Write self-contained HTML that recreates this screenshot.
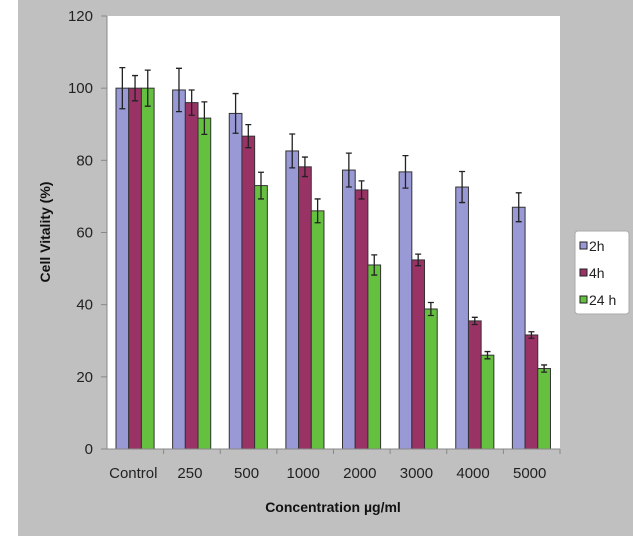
<!DOCTYPE html>
<html><head><meta charset="utf-8"><style>
body{margin:0;width:633px;height:536px;overflow:hidden;background:#fff}
svg{display:block;font-family:"Liberation Sans",Arial,sans-serif}
</style></head><body>
<svg width="633" height="536">
<rect x="18" y="0" width="615" height="536" fill="#c0c0c0"/>
<rect x="107" y="16" width="453" height="433" fill="#fff"/>
<g id="bars"></g>
<g id="axes"></g>
<text x="0" y="0" transform="translate(50,232) rotate(-90)" text-anchor="middle" font-size="14" font-weight="bold" fill="#111">Cell Vitality (%)</text>
<text x="333" y="512" text-anchor="middle" font-size="14" font-weight="bold" fill="#111">Concentration µg/ml</text>
<g>
<rect x="575" y="231" width="54" height="83" rx="3" fill="#fff" stroke="#aaa"/>
<rect x="580" y="242" width="7" height="7" fill="#9999d5" stroke="#222"/>
<text x="589" y="251" font-size="14" fill="#222">2h</text>
<rect x="580" y="269" width="7" height="7" fill="#993366" stroke="#222"/>
<text x="589" y="278" font-size="14" fill="#222">4h</text>
<rect x="580" y="296" width="7" height="7" fill="#66c040" stroke="#222"/>
<text x="589" y="305" font-size="14" fill="#222">24 h</text>
</g>
</svg>
<script>
const categories=["Control","250","500","1000","2000","3000","4000","5000"];
const seriesNames=["2h","4h","24h"];
const values2h=[100,99.5,93,82.6,77.3,76.8,72.6,67];
const values4h=[100,96,86.7,78.2,71.8,52.4,35.5,31.6];
const values24h=[100,91.7,73,66,51,38.8,26,22.3];
const err2h=[5.7,6,5.5,4.7,4.7,4.5,4.3,4];
const err4h=[3.5,3.5,3.2,2.7,2.5,1.6,1,0.9];
const err24h=[5,4.5,3.7,3.3,2.8,1.8,1,1];
const yTicks=[0,20,40,60,80,100,120];
const colors=["#9999d5","#993366","#66c040"];
const NS="http://www.w3.org/2000/svg";
const X0=107,X1=560,Y0=449,Y1=16,YMAX=120;
const y=v=>Y0-(v/YMAX)*(Y0-Y1);
const step=(X1-X0)/categories.length;
const bw=12.7;
const gx=i=>X0+i*step+9;
function mk(t,a,p){const e=document.createElementNS(NS,t);for(const k in a)e.setAttribute(k,a[k]);p.appendChild(e);return e;}
const bars=document.getElementById('bars'),axes=document.getElementById('axes');
const vals=[values2h,values4h,values24h],errs=[err2h,err4h,err24h];
vals.forEach((arr,s)=>{arr.forEach((v,i)=>{
 const x=gx(i)+s*bw;
 const r=mk('rect',{x:x,y:y(v),width:bw,height:Y0-y(v),fill:colors[s],stroke:'#333','stroke-width':1},bars);
 
 
 const cx=x+bw/2,e=errs[s][i];
 const l=mk('path',{d:`M${cx},${y(v+e)}V${y(v-e)}M${cx-3},${y(v+e)}H${cx+3}M${cx-3},${y(v-e)}H${cx+3}`,stroke:'#222','stroke-width':1.3,fill:'none'},bars);
 
 
});});
const ya=mk('line',{x1:X0,y1:Y1,x2:X0,y2:Y0,stroke:'#888'},axes);


const xa=mk('line',{x1:X0-5,y1:Y0,x2:X1,y2:Y0,stroke:'#888'},axes);


yTicks.forEach(t=>{
 mk('line',{x1:X0-6,y1:y(t),x2:X0,y2:y(t),stroke:'#888'},axes);
 const tx=mk('text',{x:X0-14,y:y(t)+5,'text-anchor':'end','font-size':15,fill:'#222'},axes);
 tx.textContent=t;
 
 
});
categories.forEach((c,i)=>{
 mk('line',{x1:X0+(i+1)*step,y1:Y0,x2:X0+(i+1)*step,y2:Y0+5,stroke:'#888'},axes);
 const tx=mk('text',{x:X0+(i+0.5)*step-2,y:Y0+29,'text-anchor':'middle','font-size':15,fill:'#222'},axes);
 tx.textContent=c;
 
 
});
</script>
</body></html>
